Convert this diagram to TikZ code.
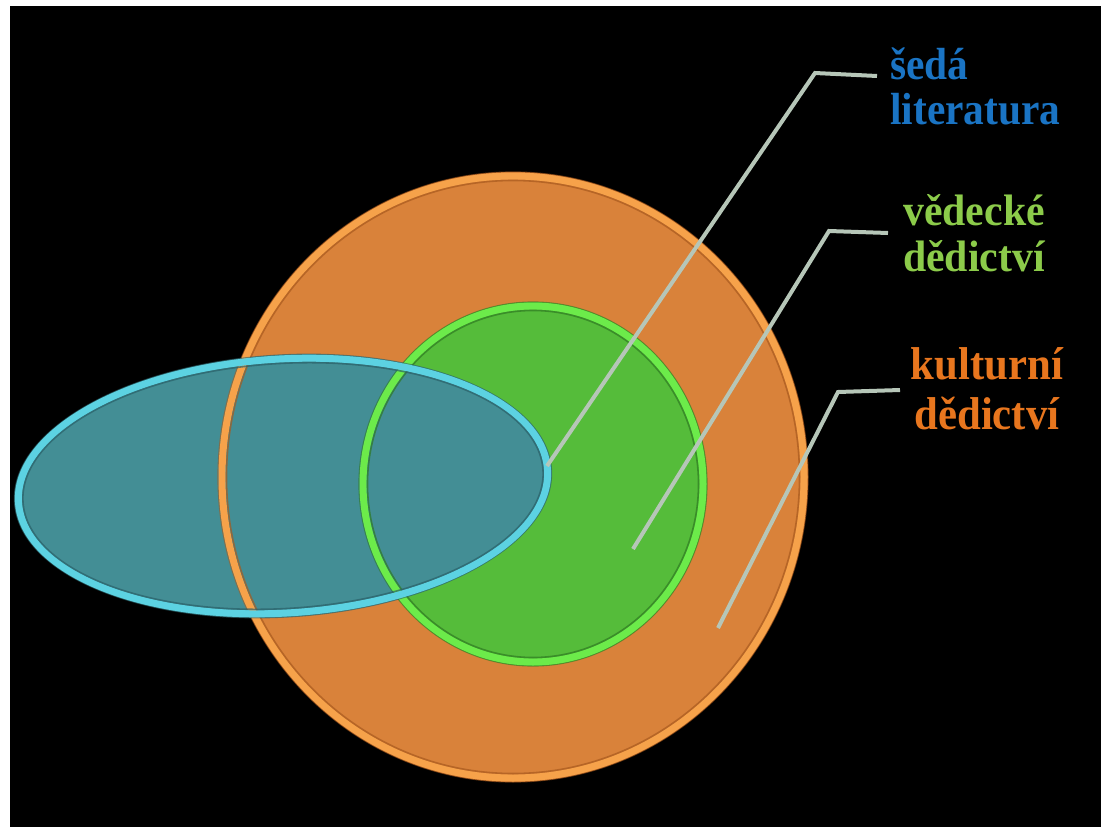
\documentclass[tikz,border=0pt]{standalone}
\usepackage{fontspec}
\setmainfont{Liberation Serif}
\newfontfamily\lblfontblue{Liberation Serif}[FakeStretch=0.92]
\newfontfamily\lblfontgreen{Liberation Serif}[FakeStretch=0.95]
\newfontfamily\lblfontorange{Liberation Serif}[FakeStretch=0.93]
\definecolor{orfill}{HTML}{D9823A}
\definecolor{orrim}{HTML}{F6A24A}
\definecolor{ordark}{HTML}{A85A1E}
\definecolor{grfill}{HTML}{55BC3A}
\definecolor{grrim}{HTML}{6CEB4A}
\definecolor{grdark}{HTML}{2F7A22}
\definecolor{blfill}{HTML}{438E95}
\definecolor{blrim}{HTML}{5CD2E2}
\definecolor{bldark}{HTML}{2A6068}
\definecolor{leader}{HTML}{B6C6B8}
\definecolor{txtblue}{HTML}{1A74C4}
\definecolor{txtgreen}{HTML}{8CCB4A}
\definecolor{txtorange}{HTML}{E8761E}
\tikzset{
  rim/.style={line width=7pt},
  groove/.style={line width=1.6pt, opacity=.7},
  leaderline/.style={draw=leader, line width=4pt},
  lblblue/.style={inner sep=0pt, align=left, text=txtblue, font=\lblfontblue\bfseries\fontsize{45}{45}\selectfont},
  lblgreen/.style={inner sep=0pt, align=center, text=txtgreen, font=\lblfontgreen\bfseries\fontsize{44}{46}\selectfont},
  lblorange/.style={inner sep=0pt, align=center, text=txtorange, font=\lblfontorange\bfseries\fontsize{46}{50}\selectfont}
}
\begin{document}
\begin{tikzpicture}[x=1pt,y=-1pt]
\useasboundingbox (0,0) rectangle (1101,827);
\fill[white] (0,0) rectangle (1101,827);
\fill[black] (10,6) rectangle (1101,827);

% fills
\fill[orfill] (513,477) ellipse [x radius=295pt, y radius=305pt];
\fill[grfill] (533,484) ellipse [x radius=174pt, y radius=182pt];
\begin{scope}[shift={(283,486)}, rotate=3.5]
  \fill[blfill] (0,0) ellipse [x radius=269pt, y radius=131pt];
\end{scope}

% rims
\draw[ordark, line width=1.2pt, opacity=.6] (513,477) ellipse [x radius=295pt, y radius=305pt];
\draw[orrim, rim] (513,477) ellipse [x radius=291pt, y radius=301pt];
\draw[ordark, groove] (513,477) ellipse [x radius=286.5pt, y radius=296.5pt];

\draw[grdark, line width=1.2pt, opacity=.6] (533,484) ellipse [x radius=174pt, y radius=182pt];
\draw[grrim, rim] (533,484) ellipse [x radius=170pt, y radius=178pt];
\draw[grdark, groove] (533,484) ellipse [x radius=165.5pt, y radius=173.5pt];

\begin{scope}[shift={(283,486)}, rotate=3.5]
  \draw[bldark, line width=1.2pt, opacity=.6] (0,0) ellipse [x radius=269pt, y radius=131pt];
  \draw[blrim, rim] (0,0) ellipse [x radius=265pt, y radius=127pt];
  \draw[bldark, groove] (0,0) ellipse [x radius=260.5pt, y radius=122.5pt];
\end{scope}

% leader lines
\coordinate (s1) at (547,466);
\coordinate (s2) at (815,73);
\coordinate (s3) at (877,76);
\coordinate (v1) at (633,549);
\coordinate (v2) at (829,231);
\coordinate (v3) at (888,233);
\coordinate (k1) at (718,628);
\coordinate (k2) at (838,392);
\coordinate (k3) at (900,390);
\draw[leaderline] (s1) -- (s2) -- (s3);
\draw[leaderline] (v1) -- (v2) -- (v3);
\draw[leaderline] (k1) -- (k2) -- (k3);

% labels
\node[lblblue, anchor=south west] (seda) at (890,125) {šedá\\literatura};
\node[lblgreen, anchor=south] (vedecke) at (974,272) {vědecké\\dědictví};
\node[lblorange, anchor=south] (kulturni) at (987,430) {kulturní\\dědictví};
\end{tikzpicture}
\end{document}
